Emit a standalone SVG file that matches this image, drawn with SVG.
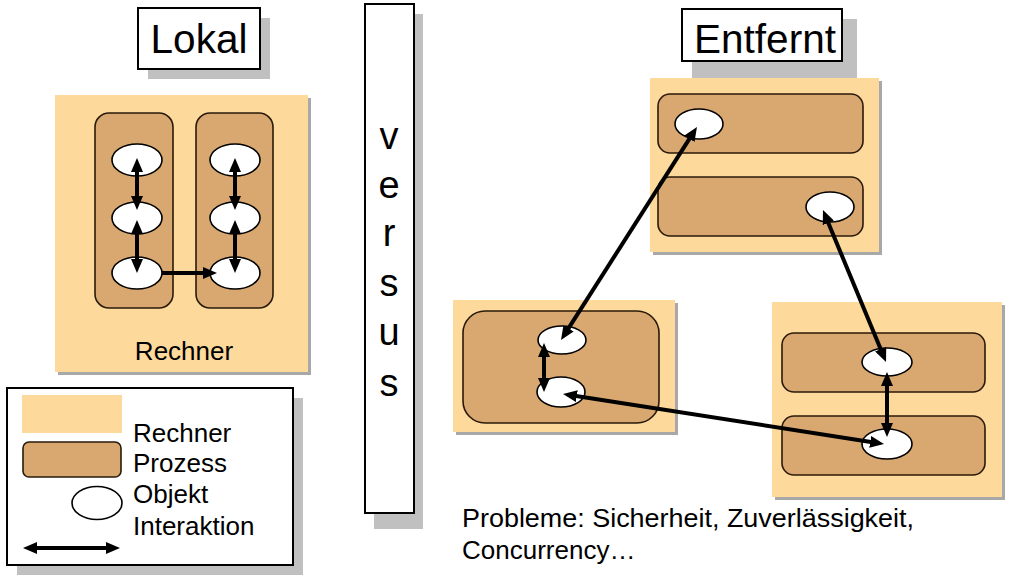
<svg xmlns="http://www.w3.org/2000/svg" width="1011" height="581" viewBox="0 0 1011 581">
<style>
text{font-family:"Liberation Sans",Arial,sans-serif;fill:#000}
.shadow{fill:#c0c0c0}
.rshadow{fill:#a8a8a8}
.rechner{fill:#fdd99b}
.proz{fill:#d8a870;stroke:#2a1a0a;stroke-width:1.6}
.obj{fill:#fff;stroke:#000;stroke-width:1.6}
.box{fill:#fff;stroke:#000;stroke-width:2}
.conn{stroke:#000;stroke-width:4;fill:none}
.lbl{font-size:26px}
.title{font-size:40.5px}
.vs{font-size:38px}
</style>
<defs>
<marker id="ah" viewBox="0 0 14 12" refX="4" refY="6" markerWidth="14" markerHeight="12" markerUnits="userSpaceOnUse" orient="auto-start-reverse">
<path d="M0,0 L14,6 L0,12 z" fill="#000"/>
</marker>
</defs>
<rect width="1011" height="581" fill="#fff"/>

<g id="title-lokal">
<rect class="shadow" x="148" y="18" width="122" height="61"/>
<rect class="box" x="138" y="8" width="122" height="61"/>
<text class="title" x="199" y="53" text-anchor="middle">Lokal</text>
</g>

<g id="title-entfernt">
<rect class="shadow" x="692" y="19" width="165" height="60"/>
<rect class="box" x="682" y="9" width="160" height="52"/>
<text class="title" x="765" y="53" text-anchor="middle">Entfernt</text>
</g>

<g id="versus">
<rect class="shadow" x="374" y="14" width="49" height="515"/>
<rect class="box" x="365" y="4" width="49" height="509"/>
<g text-anchor="middle">
<text class="vs" x="389" y="149">v</text>
<text class="vs" x="389" y="198">e</text>
<text class="vs" x="389" y="246">r</text>
<text class="vs" x="389" y="296">s</text>
<text class="vs" x="389" y="345">u</text>
<text class="vs" x="389" y="396">s</text>
</g>
</g>

<g id="lokal-rechner">
<rect class="rshadow" x="58" y="98" width="253" height="277"/>
<rect class="rechner" x="55" y="95" width="253" height="277"/>
<text class="lbl" x="184" y="360" text-anchor="middle">Rechner</text>
</g>
<g id="lokal-prozess1"><rect class="proz" x="95" y="113" width="78" height="195" rx="14"/></g>
<g id="lokal-prozess2"><rect class="proz" x="196" y="113" width="77" height="195" rx="14"/></g>
<g id="lokal-obj1"><ellipse class="obj" cx="137" cy="160" rx="25" ry="16"/></g>
<g id="lokal-obj2"><ellipse class="obj" cx="137" cy="218" rx="25" ry="16"/></g>
<g id="lokal-obj3"><ellipse class="obj" cx="137" cy="273" rx="25" ry="16"/></g>
<g id="lokal-obj4"><ellipse class="obj" cx="235" cy="160" rx="25" ry="16"/></g>
<g id="lokal-obj5"><ellipse class="obj" cx="235" cy="218" rx="25" ry="16"/></g>
<g id="lokal-obj6"><ellipse class="obj" cx="235" cy="273" rx="25" ry="16"/></g>

<g id="remote-rechner1">
<rect class="rshadow" x="653" y="81" width="229" height="174"/>
<rect class="rechner" x="650" y="78" width="229" height="174"/>
</g>
<g id="remote-prozess1"><rect class="proz" x="658" y="94" width="205" height="59" rx="12"/></g>
<g id="remote-prozess2"><rect class="proz" x="658" y="177" width="205" height="59" rx="12"/></g>
<g id="remote-obj1"><ellipse class="obj" cx="699" cy="124" rx="24" ry="15"/></g>
<g id="remote-obj2"><ellipse class="obj" cx="830" cy="207" rx="24" ry="15"/></g>

<g id="remote-rechner2">
<rect class="rshadow" x="456" y="303" width="222" height="132"/>
<rect class="rechner" x="453" y="300" width="222" height="132"/>
</g>
<g id="remote-prozess3"><rect class="proz" x="463" y="311" width="196" height="112" rx="22"/></g>
<g id="remote-obj3"><ellipse class="obj" cx="562" cy="340" rx="24" ry="14"/></g>
<g id="remote-obj4"><ellipse class="obj" cx="561" cy="392" rx="24" ry="15"/></g>

<g id="remote-rechner3">
<rect class="rshadow" x="775" y="305" width="230" height="195"/>
<rect class="rechner" x="772" y="302" width="230" height="195"/>
</g>
<g id="remote-prozess4"><rect class="proz" x="782" y="333" width="203" height="59" rx="12"/></g>
<g id="remote-prozess5"><rect class="proz" x="782" y="416" width="203" height="59" rx="12"/></g>
<g id="remote-obj5"><ellipse class="obj" cx="887" cy="362" rx="25" ry="14"/></g>
<g id="remote-obj6"><ellipse class="obj" cx="887" cy="444" rx="25" ry="15"/></g>

<g id="connectors">
<line class="conn" x1="137" y1="168" x2="137" y2="200" marker-start="url(#ah)" marker-end="url(#ah)"/>
<line class="conn" x1="137" y1="230" x2="137" y2="263" marker-start="url(#ah)" marker-end="url(#ah)"/>
<line class="conn" x1="235" y1="168" x2="235" y2="200" marker-start="url(#ah)" marker-end="url(#ah)"/>
<line class="conn" x1="235" y1="230" x2="235" y2="263" marker-start="url(#ah)" marker-end="url(#ah)"/>
<line class="conn" x1="162" y1="273" x2="207" y2="273" marker-end="url(#ah)"/>
<line class="conn" x1="691.6" y1="135.4" x2="566.4" y2="331.6" marker-start="url(#ah)" marker-end="url(#ah)"/>
<line class="conn" x1="826.8" y1="219.2" x2="882.2" y2="352.8" marker-start="url(#ah)" marker-end="url(#ah)"/>
<line class="conn" x1="887" y1="382" x2="887" y2="427" marker-start="url(#ah)" marker-end="url(#ah)"/>
<line class="conn" x1="544" y1="353" x2="544" y2="382" marker-start="url(#ah)" marker-end="url(#ah)"/>
<line class="conn" x1="572.9" y1="395.5" x2="874.1" y2="442.5" marker-start="url(#ah)" marker-end="url(#ah)"/>
</g>

<g id="legend">
<rect class="shadow" x="17" y="398" width="286" height="177"/>
<rect class="box" x="7" y="388" width="286" height="177"/>
<rect class="rechner" x="22" y="395" width="100" height="38"/>
<rect class="proz" x="23" y="442" width="98" height="35" rx="6"/>
<ellipse class="obj" cx="97" cy="503" rx="25" ry="16.5"/>
<line class="conn" x1="33" y1="548" x2="110" y2="548" marker-start="url(#ah)" marker-end="url(#ah)"/>
<text class="lbl" x="133" y="442">Rechner</text>
<text class="lbl" x="133" y="472">Prozess</text>
<text class="lbl" x="133" y="503">Objekt</text>
<text class="lbl" x="133" y="535">Interaktion</text>
</g>

<g id="probleme">
<text class="lbl" x="462" y="527" textLength="452" lengthAdjust="spacingAndGlyphs">Probleme: Sicherheit, Zuverlässigkeit,</text>
<text class="lbl" x="462" y="559">Concurrency…</text>
</g>
</svg>
